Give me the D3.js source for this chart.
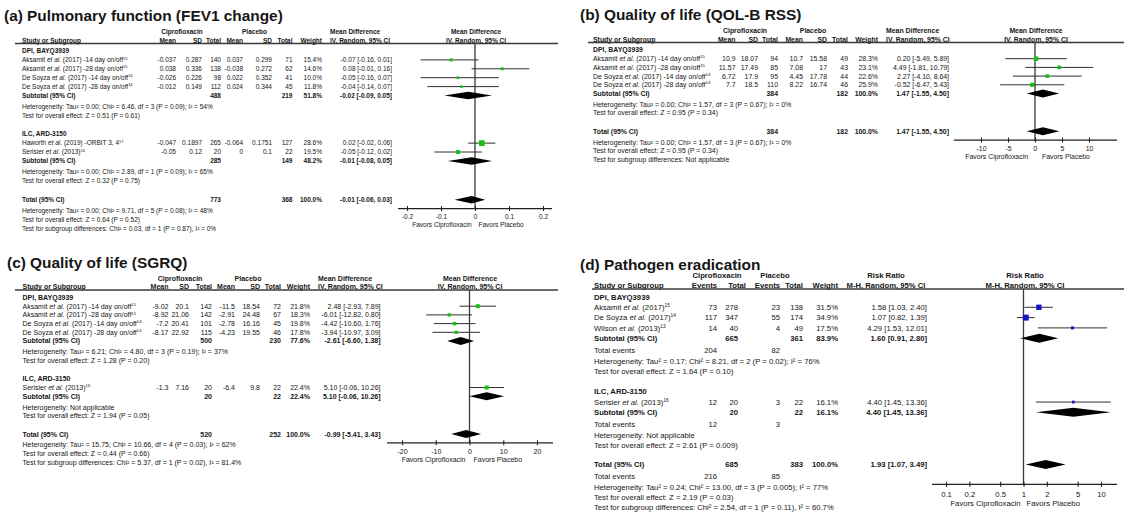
<!DOCTYPE html>
<html>
<head>
<meta charset="utf-8">
<script src="https://cdn.jsdelivr.net/npm/d3@7"></script>
<style>
  body { margin: 0; background: #fff; }
  svg text { font-family: "Liberation Sans", Arial, Helvetica, sans-serif; fill: #161616; }
</style>
</head>
<body>
<svg id="fig" width="1124" height="517"></svg>
<script>
// ---------- (a) Pulmonary function (FEV1 change) ----------
const aAuthor = ["Aksamit", "Aksamit", "De Soyza", "De Soyza", "Haworth", "Serisier"];
const aDetail = [" (2017) -14 day on/off", " (2017) -28 day on/off", " (2017) -14 day on/off", " (2017) -28 day on/off", " (2019) -ORBIT  3, 4", " (2013)"];
const aRef = ["15", "15", "14", "14", "17", "16"];
const aGroup = [0, 0, 0, 0, 1, 1];
const aCipMean = [-0.037, 0.038, -0.026, -0.012, -0.047, -0.05];
const aCipSD = [0.287, 0.336, 0.226, 0.149, 0.1897, 0.12];
const aCipN = [140, 138, 98, 112, 265, 20];
const aPlaMean = [0.037, -0.038, 0.022, 0.024, -0.064, 0];
const aPlaSD = [0.299, 0.272, 0.352, 0.344, 0.1751, 0.1];
const aPlaN = [71, 62, 41, 45, 127, 22];
const aWeight = [15.4, 14.6, 10.0, 11.8, 28.6, 19.5];
const aEst = [-0.07, 0.08, -0.05, -0.04, 0.02, -0.05];
const aLow = [-0.16, -0.01, -0.16, -0.14, -0.02, -0.12];
const aHigh = [0.01, 0.16, 0.07, 0.07, 0.06, 0.02];
const aGroupName = ["DPI, BAYQ3939", "ILC, ARD-3150"];
const aSubCipN = [488, 285];
const aSubPlaN = [219, 149];
const aSubWeight = [51.8, 48.2];
const aSubEst = [-0.02, -0.01];
const aSubLow = [-0.09, -0.08];
const aSubHigh = [0.05, 0.05];
const aSubHet = ["Heterogeneity: Tau² = 0.00; Chi² = 6.46, df = 3 (P = 0.09); I² = 54%",
                 "Heterogeneity: Tau² = 0.00; Chi² = 2.89, df = 1 (P = 0.09); I² = 65%"];
const aSubTest = ["Test for overall effect: Z = 0.51 (P = 0.61)", "Test for overall effect: Z = 0.32 (P = 0.75)"];
const aTotN = [773, 368];
const aTotEst = [-0.01, -0.06, 0.03];
const aTotNotes = ["Heterogeneity: Tau² = 0.00; Chi² = 9.71, df = 5 (P = 0.08); I² = 48%",
                   "Test for overall effect: Z = 0.64 (P = 0.52)",
                   "Test for subgroup differences: Chi² = 0.03, df = 1 (P = 0.87), I² = 0%"];
const aTicks = [-0.2, -0.1, 0, 0.1, 0.2];

// ---------- (b) Quality of life (QOL-B RSS) ----------
const bAuthor = ["Aksamit", "Aksamit", "De Soyza", "De Soyza"];
const bDetail = [" (2017) -14 day on/off", " (2017) -28 day on/off", " (2017) -14 day on/off", " (2017) -28 day on/off"];
const bRef = ["15", "15", "14", "14"];
const bGroup = [0, 0, 0, 0];
const bCipMean = [10.9, 11.57, 6.72, 7.7];
const bCipSD = [18.07, 17.49, 17.9, 18.5];
const bCipN = [94, 85, 95, 110];
const bPlaMean = [10.7, 7.08, 4.45, 8.22];
const bPlaSD = [15.58, 17, 17.78, 16.74];
const bPlaN = [49, 43, 44, 46];
const bWeight = [28.3, 23.1, 22.6, 25.9];
const bEst = [0.20, 4.49, 2.27, -0.52];
const bLow = [-5.49, -1.81, -4.10, -6.47];
const bHigh = [5.89, 10.79, 8.64, 5.43];
const bGroupName = ["DPI, BAYQ3939"];
const bSubCipN = [384];
const bSubPlaN = [182];
const bSubWeight = [100.0];
const bSubEst = [1.47];
const bSubLow = [-1.55];
const bSubHigh = [4.50];
const bSubHet = ["Heterogeneity: Tau² = 0.00; Chi² = 1.57, df = 3 (P = 0.67); I² = 0%"];
const bSubTest = ["Test for overall effect: Z = 0.95 (P = 0.34)"];
const bTotN = [384, 182];
const bTotEst = [1.47, -1.55, 4.50];
const bTotNotes = ["Heterogeneity: Tau² = 0.00; Chi² = 1.57, df = 3 (P = 0.67); I² = 0%",
                   "Test for overall effect: Z = 0.95 (P = 0.34)",
                   "Test for subgroup differences: Not applicable"];
const bTicks = [-10, -5, 0, 5, 10];

// ---------- (c) Quality of life (SGRQ) ----------
const cAuthor = ["Aksamit", "Aksamit", "De Soyza", "De Soyza", "Serisier"];
const cDetail = [" (2017) -14 day on/off", " (2017) -28 day on/off", " (2017) -14 day on/off", " (2017) -28 day on/off", " (2013)"];
const cRef = ["15", "15", "14", "14", "16"];
const cGroup = [0, 0, 0, 0, 1];
const cCipMean = [-9.02, -8.92, -7.2, -8.17, -1.3];
const cCipSD = [20.1, 21.06, 20.41, 22.92, 7.16];
const cCipN = [142, 142, 101, 115, 20];
const cPlaMean = [-11.5, -2.91, -2.78, -4.23, -6.4];
const cPlaSD = [18.54, 24.48, 16.16, 19.55, 9.8];
const cPlaN = [72, 67, 45, 46, 22];
const cWeight = [21.8, 18.3, 19.8, 17.8, 22.4];
const cEst = [2.48, -6.01, -4.42, -3.94, 5.10];
const cLow = [-2.93, -12.82, -10.60, -10.97, -0.06];
const cHigh = [7.89, 0.80, 1.76, 3.09, 10.26];
const cGroupName = ["DPI, BAYQ3939", "ILC, ARD-3150"];
const cSubCipN = [500, 20];
const cSubPlaN = [230, 22];
const cSubWeight = [77.6, 22.4];
const cSubEst = [-2.61, 5.10];
const cSubLow = [-6.60, -0.06];
const cSubHigh = [1.38, 10.26];
const cSubHet = ["Heterogeneity: Tau² = 6.21; Chi² = 4.80, df = 3 (P = 0.19); I² = 37%", "Heterogeneity: Not applicable"];
const cSubTest = ["Test for overall effect: Z = 1.28 (P = 0.20)", "Test for overall effect: Z = 1.94 (P = 0.05)"];
const cTotN = [520, 252];
const cTotEst = [-0.99, -5.41, 3.43];
const cTotNotes = ["Heterogeneity: Tau² = 15.75; Chi² = 10.66, df = 4 (P = 0.03); I² = 62%",
                   "Test for overall effect: Z = 0.44 (P = 0.66)",
                   "Test for subgroup differences: Chi² = 5.37, df = 1 (P = 0.02), I² = 81.4%"];
const cTicks = [-20, -10, 0, 10, 20];

// ---------- (d) Pathogen eradication ----------
const dAuthor = ["Aksamit", "De Soyza", "Wilson", "Serisier"];
const dDetail = [" (2017)", " (2017)", " (2013)", " (2013)"];
const dRef = ["15", "14", "13", "16"];
const dGroup = [0, 0, 0, 1];
const dCipEvents = [73, 117, 14, 12];
const dCipN = [278, 347, 40, 20];
const dPlaEvents = [23, 55, 4, 3];
const dPlaN = [138, 174, 49, 22];
const dWeight = [31.5, 34.9, 17.5, 16.1];
const dEst = [1.58, 1.07, 4.29, 4.40];
const dLow = [1.03, 0.82, 1.53, 1.45];
const dHigh = [2.40, 1.39, 12.01, 13.36];
const dGroupName = ["DPI, BAYQ3939", "ILC, ARD-3150"];
const dSubCipN = [665, 20];
const dSubPlaN = [361, 22];
const dSubCipEvents = [204, 12];
const dSubPlaEvents = [82, 3];
const dSubWeight = [83.9, 16.1];
const dSubEst = [1.60, 4.40];
const dSubLow = [0.91, 1.45];
const dSubHigh = [2.80, 13.36];
const dSubHet = ["Heterogeneity: Tau² = 0.17; Chi² = 8.21, df = 2 (P = 0.02); I² = 76%", "Heterogeneity: Not applicable"];
const dSubTest = ["Test for overall effect: Z = 1.64 (P = 0.10)", "Test for overall effect: Z = 2.61 (P = 0.009)"];
const dTotN = [685, 383];
const dTotEvents = [216, 85];
const dTotEst = [1.93, 1.07, 3.49];
const dTotNotes = ["Heterogeneity: Tau² = 0.24; Chi² = 13.00, df = 3 (P = 0.005); I² = 77%",
                   "Test for overall effect: Z = 2.19 (P = 0.03)",
                   "Test for subgroup differences: Chi² = 2.54, df = 1 (P = 0.11), I² = 60.7%"];
const dTicks = [0.1, 0.2, 0.5, 1, 2, 5, 10];

const svg = d3.select("#fig");

// Draw one forest plot panel (table on the left, plot on the right)
function forest(P) {
  const g = svg.append("g");
  const fs = P.fs, r = P.row, mid = fs * 0.35;

  const text = (x, y, s, o = {}) => g.append("text")
    .attr("x", x).attr("y", y)
    .attr("font-size", o.size || fs)
    .attr("font-weight", o.bold ? "bold" : null)
    .attr("text-anchor", o.anchor || "start")
    .text(s);

  const fmt = v => v.toFixed(2);
  const ciText = (e, l, h) => fmt(e) + " [" + fmt(l) + ", " + fmt(h) + "]";

  // Scale of the plot
  const x = (P.log ? d3.scaleLog() : d3.scaleLinear())
    .domain(d3.extent(P.ticks))
    .range(P.tickRange);

  // Title
  text(P.titleX, P.titleY, P.title, { size: P.titleSize, bold: true });

  // Headers
  const h1 = P.lineY - 1 - 0.95 * r, h2 = P.lineY - 1;
  text(P.cipHeadX, h1, "Ciprofloxacin", { bold: true, anchor: "middle" });
  text(P.plaHeadX, h1, "Placebo", { bold: true, anchor: "middle" });
  text(P.textX, h2, "Study or Subgroup", { bold: true });
  P.colHead.forEach((h, i) => text(P.colHeadX[i], h2, h, { bold: true, anchor: "end" }));
  text(P.weightX, h2, "Weight", { bold: true, anchor: "end" });
  text(P.estHeadX, h1, P.estHead[0], { bold: true, anchor: P.estHeadAnchor });
  text(P.estHeadX, h2, P.estHead[1], { bold: true, anchor: P.estHeadAnchor });
  text(P.plotHeadX, h1, P.estHead[0], { bold: true, anchor: "middle" });
  text(P.plotHeadX, h2, P.estHead[1], { bold: true, anchor: "middle" });

  g.append("line")
    .attr("x1", P.lineX[0]).attr("x2", P.lineX[1])
    .attr("y1", P.lineY).attr("y2", P.lineY)
    .attr("stroke", "#3a3a3a").attr("stroke-width", 1.3);

  // Row layout
  let y = P.y0;
  const rows = [];
  P.groupName.forEach((name, gi) => {
    rows.push({ type: "group", y, gi });
    P.group.forEach((gg, i) => {
      if (gg === gi) { y += r; rows.push({ type: "study", y, i }); }
    });
    y += r; rows.push({ type: "sub", y, gi });
    if (P.subEventsCols) {
      y += r * 1.2; rows.push({ type: "subEvents", y, gi });
      y += r;
    } else {
      y += r * 1.25;
    }
    rows.push({ type: "note", y, s: P.subHet[gi] });
    y += r; rows.push({ type: "note", y, s: P.subTest[gi] });
    y += r * (gi < P.groupName.length - 1 ? P.groupGap : P.totalGap);
  });
  const totalY = y;
  rows.push({ type: "total", y });
  if (P.totEventsCols) {
    y += r * 1.2; rows.push({ type: "totEvents", y });
    y += r;
  } else {
    y += r * 1.25;
  }
  P.totNotes.forEach((s, k) => rows.push({ type: "note", y: y + k * r, s }));
  const axisY = totalY + P.axisGap * r;

  // Zero / null line
  g.append("line")
    .attr("x1", x(P.nullValue)).attr("x2", x(P.nullValue))
    .attr("y1", P.lineY).attr("y2", axisY)
    .attr("stroke", "#3a3a3a").attr("stroke-width", 1.3);

  const putCols = (cols, yy, bold) => cols.forEach((v, c) => {
    if (v != null) text(P.colX[c], yy + mid, String(v), { anchor: "end", bold });
  });

  const diamond = (yy, e, l, h) => {
    const d = P.diamondH / 2;
    g.append("path")
      .attr("d", d3.line()([[x(l), yy], [x(e), yy - d], [x(h), yy], [x(e), yy + d]]) + "Z")
      .attr("fill", "#000");
  };

  rows.forEach(R => {
    const ty = R.y + mid;
    if (R.type === "group") {
      text(P.textX, ty, P.groupName[R.gi], { bold: true });
    } else if (R.type === "study") {
      const i = R.i;
      const t = text(P.textX, ty, "");
      t.append("tspan").text(P.author[i] + " ");
      t.append("tspan").attr("font-style", "italic").text("et al.");
      t.append("tspan").text(P.detail[i]);
      t.append("tspan").attr("font-size", fs * 0.62).attr("dy", -fs * 0.4).text(P.ref[i]);
      putCols(P.studyCols.map(a => a[i]), R.y, false);
      text(P.weightX, ty, P.weight[i].toFixed(1) + "%", { anchor: "end" });
      text(P.estX, ty, ciText(P.est[i], P.low[i], P.high[i]), { anchor: "end" });
      // CI line and square
      g.append("line")
        .attr("x1", Math.max(P.axisX[0], x(P.low[i])))
        .attr("x2", Math.min(P.axisX[1], x(P.high[i])))
        .attr("y1", R.y).attr("y2", R.y)
        .attr("stroke", "#303030").attr("stroke-width", 1);
      const s = Math.max(2.6, P.k * P.weight[i]);
      g.append("rect")
        .attr("x", x(P.est[i]) - s / 2).attr("y", R.y - s / 2)
        .attr("width", s).attr("height", s)
        .attr("fill", P.color);
    } else if (R.type === "sub") {
      const gi = R.gi;
      text(P.textX, ty, "Subtotal (95% CI)", { bold: true });
      putCols(P.subCols.map(a => a ? a[gi] : null), R.y, true);
      text(P.weightX, ty, P.subWeight[gi].toFixed(1) + "%", { anchor: "end", bold: true });
      text(P.estX, ty, ciText(P.subEst[gi], P.subLow[gi], P.subHigh[gi]), { anchor: "end", bold: true });
      diamond(R.y, P.subEst[gi], P.subLow[gi], P.subHigh[gi]);
    } else if (R.type === "subEvents") {
      text(P.textX, ty, "Total events");
      putCols(P.subEventsCols.map(a => a ? a[R.gi] : null), R.y, false);
    } else if (R.type === "total") {
      text(P.textX, ty, "Total (95% CI)", { bold: true });
      putCols(P.totCols, R.y, true);
      text(P.weightX, ty, "100.0%", { anchor: "end", bold: true });
      text(P.estX, ty, ciText(P.totEst[0], P.totEst[1], P.totEst[2]), { anchor: "end", bold: true });
      diamond(R.y, P.totEst[0], P.totEst[1], P.totEst[2]);
    } else if (R.type === "totEvents") {
      text(P.textX, ty, "Total events");
      putCols(P.totEventsCols, R.y, false);
    } else {
      text(P.textX, ty, R.s);
    }
  });

  // Axis
  const ax = g.append("g")
    .attr("transform", "translate(0," + axisY + ")")
    .call(d3.axisBottom(x).tickValues(P.ticks).tickFormat(d => String(d)).tickSize(0));
  ax.select(".domain").remove();
  ax.attr("font-family", null).attr("font-size", null);
  ax.selectAll(".tick line").attr("y1", -2.5).attr("y2", 2.5)
    .attr("stroke", "#222").attr("stroke-width", 1.1);
  ax.selectAll(".tick text")
    .attr("y", 1.25 * fs + mid).attr("dy", null)
    .attr("font-size", fs).attr("fill", "#161616");
  g.append("line")
    .attr("x1", P.axisX[0]).attr("x2", P.axisX[1])
    .attr("y1", axisY).attr("y2", axisY)
    .attr("stroke", "#222").attr("stroke-width", 1.2);

  const fy = axisY + 2.45 * fs + mid;
  text(x(P.nullValue) - P.favorGap, fy, "Favors Ciprofloxacin", { anchor: "end" });
  text(x(P.nullValue) + P.favorGap, fy, "Favors Placebo");
}

forest({
  title: "(a) Pulmonary function (FEV1 change)", titleX: 4, titleY: 20.5, titleSize: 15.4,
  fs: 6.5, row: 8.9, y0: 51, lineY: 43.5, lineX: [15, 558], textX: 22,
  cipHeadX: 182, plaHeadX: 254.5,
  colHead: ["Mean", "SD", "Total", "Mean", "SD", "Total"],
  colX: [176, 202, 221, 243, 272, 292.5], colHeadX: [176, 202, 221, 243, 272, 292.5],
  weightX: 322, estX: 392, estHeadX: 330, estHeadAnchor: "start",
  estHead: ["Mean Difference", "IV, Random, 95% CI"], plotHeadX: 476,
  ticks: aTicks, tickRange: [407, 543], axisX: [398, 552], log: false, nullValue: 0,
  groupGap: 2.1, totalGap: 2.1, axisGap: 1.0, favorGap: 3.5,
  color: "#16c016", k: 0.2, diamondH: 7.5,
  author: aAuthor, detail: aDetail, ref: aRef, group: aGroup,
  studyCols: [aCipMean, aCipSD, aCipN, aPlaMean, aPlaSD, aPlaN],
  weight: aWeight, est: aEst, low: aLow, high: aHigh,
  groupName: aGroupName, subCols: [null, null, aSubCipN, null, null, aSubPlaN],
  subWeight: aSubWeight, subEst: aSubEst, subLow: aSubLow, subHigh: aSubHigh,
  subHet: aSubHet, subTest: aSubTest,
  totCols: [null, null, aTotN[0], null, null, aTotN[1]], totEst: aTotEst, totNotes: aTotNotes
});

forest({
  title: "(b) Quality of life (QOL-B RSS)", titleX: 580, titleY: 20, titleSize: 15.4,
  fs: 6.9, row: 8.7, y0: 50, lineY: 42.5, lineX: [588, 1124], textX: 593,
  cipHeadX: 745, plaHeadX: 813,
  colHead: ["Mean", "SD", "Total", "Mean", "SD", "Total"],
  colX: [735.5, 758, 778, 803, 827, 848], colHeadX: [735.5, 758, 778, 803, 827, 848],
  weightX: 878, estX: 949, estHeadX: 886, estHeadAnchor: "start",
  estHead: ["Mean Difference", "IV, Random, 95% CI"], plotHeadX: 1036,
  ticks: bTicks, tickRange: [981, 1089], axisX: [954, 1117], log: false, nullValue: 0,
  groupGap: 2.1, totalGap: 2.1, axisGap: 1.0, favorGap: 7,
  color: "#16c016", k: 0.16, diamondH: 8,
  author: bAuthor, detail: bDetail, ref: bRef, group: bGroup,
  studyCols: [bCipMean, bCipSD, bCipN, bPlaMean, bPlaSD, bPlaN],
  weight: bWeight, est: bEst, low: bLow, high: bHigh,
  groupName: bGroupName, subCols: [null, null, bSubCipN, null, null, bSubPlaN],
  subWeight: bSubWeight, subEst: bSubEst, subLow: bSubLow, subHigh: bSubHigh,
  subHet: bSubHet, subTest: bSubTest,
  totCols: [null, null, bTotN[0], null, null, bTotN[1]], totEst: bTotEst, totNotes: bTotNotes
});

forest({
  title: "(c) Quality of life (SGRQ)", titleX: 7, titleY: 267.5, titleSize: 15.4,
  fs: 7.0, row: 8.7, y0: 297.5, lineY: 290, lineX: [15, 558], textX: 22.5,
  cipHeadX: 180, plaHeadX: 248,
  colHead: ["Mean", "SD", "Total", "Mean", "SD", "Total"],
  colX: [168.5, 189, 212, 235, 260, 281], colHeadX: [168.5, 189, 212, 235, 260, 281],
  weightX: 310, estX: 380.5, estHeadX: 318, estHeadAnchor: "start",
  estHead: ["Mean Difference", "IV, Random, 95% CI"], plotHeadX: 470,
  ticks: cTicks, tickRange: [402, 537], axisX: [387, 553], log: false, nullValue: 0,
  groupGap: 2.1, totalGap: 2.1, axisGap: 1.0, favorGap: 4,
  color: "#16c016", k: 0.18, diamondH: 8,
  author: cAuthor, detail: cDetail, ref: cRef, group: cGroup,
  studyCols: [cCipMean, cCipSD, cCipN, cPlaMean, cPlaSD, cPlaN],
  weight: cWeight, est: cEst, low: cLow, high: cHigh,
  groupName: cGroupName, subCols: [null, null, cSubCipN, null, null, cSubPlaN],
  subWeight: cSubWeight, subEst: cSubEst, subLow: cSubLow, subHigh: cSubHigh,
  subHet: cSubHet, subTest: cSubTest,
  totCols: [null, null, cTotN[0], null, null, cTotN[1]], totEst: cTotEst, totNotes: cTotNotes
});

forest({
  title: "(d) Pathogen eradication", titleX: 580, titleY: 270, titleSize: 15.4,
  fs: 7.7, row: 10.3, y0: 297, lineY: 289, lineX: [592, 1124], textX: 594,
  cipHeadX: 717, plaHeadX: 775,
  colHead: ["Events", "Total", "Events", "Total"],
  colX: [717, 738, 780, 803], colHeadX: [717, 746, 780, 803],
  weightX: 838, estX: 927, estHeadX: 886, estHeadAnchor: "middle",
  estHead: ["Risk Ratio", "M-H, Random, 95% CI"], plotHeadX: 1025,
  ticks: dTicks, tickRange: [946, 1101], axisX: [932, 1117], log: true, nullValue: 1,
  groupGap: 2.0, totalGap: 1.85, axisGap: 1.94, favorGap: 3,
  color: "#1414c4", k: 0.17, diamondH: 9,
  author: dAuthor, detail: dDetail, ref: dRef, group: dGroup,
  studyCols: [dCipEvents, dCipN, dPlaEvents, dPlaN],
  weight: dWeight, est: dEst, low: dLow, high: dHigh,
  groupName: dGroupName, subCols: [null, dSubCipN, null, dSubPlaN],
  subEventsCols: [dSubCipEvents, null, dSubPlaEvents, null],
  subWeight: dSubWeight, subEst: dSubEst, subLow: dSubLow, subHigh: dSubHigh,
  subHet: dSubHet, subTest: dSubTest,
  totCols: [null, dTotN[0], null, dTotN[1]],
  totEventsCols: [dTotEvents[0], null, dTotEvents[1], null],
  totEst: dTotEst, totNotes: dTotNotes
});
</script>
</body>
</html>
